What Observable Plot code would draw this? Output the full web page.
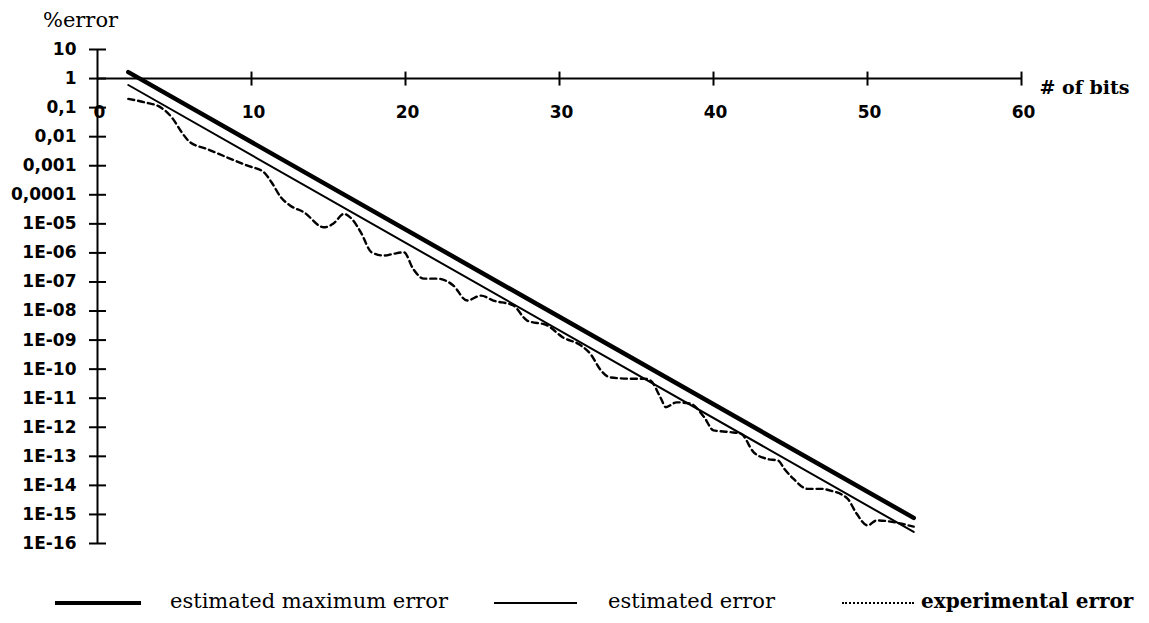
<!DOCTYPE html>
<html>
<head>
<meta charset="utf-8">
<script src="https://cdn.jsdelivr.net/npm/d3@7"></script>
<script src="https://cdn.jsdelivr.net/npm/@observablehq/plot@0.6"></script>
<style>
  body { margin: 0; background: #fff; }
  #chart svg { display: block; }
  #legend { position: relative; width: 1149px; height: 48px; font-family: "DejaVu Serif", serif; font-size: 21px; color: #000; }
  #legend .sw { position: absolute; top: 27px; height: 0; border-top-color: #000; border-top-style: solid; }
  #legend .lb { position: absolute; top: 13px; line-height: 26px; white-space: nowrap; }
</style>
</head>
<body>
<div id="chart"></div>
<div id="legend">
  <div class="sw" style="left:55px;width:86px;border-top-width:4px;top:26px"></div>
  <div class="lb" style="left:170px">estimated maximum error</div>
  <div class="sw" style="left:494px;width:83px;border-top-width:2px"></div>
  <div class="lb" style="left:608px">estimated error</div>
  <div class="sw" style="left:842px;width:72px;border-top-width:2px;border-top-style:dotted"></div>
  <div class="lb" style="left:921px;font-weight:bold;font-size:20px">experimental error</div>
</div>
<script>
// Relative error (%) versus number of mantissa bits
const maxBits = [2, 53];
const maxErr = [1.66, 7.6e-16];

const estBits = [2, 53];
const estErr = [0.60, 2.5e-16];

const expBits = [2.0, 3.0, 4.1, 4.9, 5.4, 6.0, 7.1, 8.4, 9.7, 10.8, 11.3, 11.9, 12.5, 13.4, 14.7, 15.3, 16.0, 16.5,
  17.1, 17.8, 18.6, 19.2, 19.9, 20.5, 21.2, 22.1, 23.1, 24.0, 24.9, 25.7, 27.0, 27.9, 29.2, 30.2, 31.4, 32.0,
  32.7, 33.3, 34.6, 35.5, 35.9, 36.6, 36.9, 37.6, 38.5, 39.4, 40.0, 41.1, 41.8, 42.6, 43.5, 44.2, 44.6, 45.2,
  46.1, 47.0, 47.6, 48.7, 49.3, 50.0, 50.6, 53.0];
const expErr = [0.20, 0.155, 0.102, 0.041, 0.016, 0.0065, 0.0038, 0.00195, 0.00102, 6.0e-4, 2.7e-4, 8.3e-5, 4.3e-5,
  2.5e-5, 7.6e-6, 1.0e-5, 2.2e-5, 1.5e-5, 5.1e-6, 1.05e-6, 8.1e-7, 9.3e-7, 1.05e-6, 2.8e-7, 1.3e-7, 1.3e-7,
  7.6e-8, 2.3e-8, 3.4e-8, 2.3e-8, 1.55e-8, 4.7e-9, 3.2e-9, 1.26e-9, 6.5e-10, 3.4e-10, 8.9e-11, 5.2e-11,
  4.7e-11, 4.7e-11, 4.1e-11, 9.5e-12, 4.9e-12, 7.2e-12, 6.5e-12, 2.2e-12, 7.8e-13, 6.8e-13, 5.9e-13, 1.4e-13,
  8.1e-14, 7.1e-14, 3.7e-14, 1.66e-14, 7.6e-15, 7.6e-15, 6.6e-15, 3.5e-15, 1.05e-15, 4.2e-16, 6.2e-16, 3.8e-16];

const yTickValues = [10, 1, 0.1, 0.01, 0.001, 1e-4, 1e-5, 1e-6, 1e-7, 1e-8, 1e-9, 1e-10, 1e-11, 1e-12, 1e-13, 1e-14, 1e-15, 1e-16];
const yTickLabels = ["10", "1", "0,1", "0,01", "0,001", "0,0001", "1E-05", "1E-06", "1E-07", "1E-08", "1E-09", "1E-10",
  "1E-11", "1E-12", "1E-13", "1E-14", "1E-15", "1E-16"];
const xTickValues = [0, 10, 20, 30, 40, 50, 60];
const xTickLabels = ["0", "10", "20", "30", "40", "50", "60"];

const toRows = (xs, ys) => xs.map((x, i) => ({bits: x, err: ys[i]}));
const maxRows = toRows(maxBits, maxErr);
const estRows = toRows(estBits, estErr);
const expRows = toRows(expBits, expErr);

// Short cross ticks drawn as custom symbols centred on the axis lines
const hTick = {draw(ctx, size) { const r = Math.sqrt(size / Math.PI); ctx.moveTo(-r, 0); ctx.lineTo(r, 0); }};
const vTick = {draw(ctx, size) { const r = Math.sqrt(size / Math.PI); ctx.moveTo(0, -r); ctx.lineTo(0, r); }};

const tickFont = {fontFamily: "DejaVu Sans, sans-serif", fontWeight: "bold", fontSize: 17, fill: "black"};

const chart = Plot.plot({
  width: 1149,
  height: 575,
  marginLeft: 97,
  marginRight: 128,
  marginTop: 49,
  marginBottom: 32,
  x: {type: "linear", domain: [0, 60], axis: null},
  y: {type: "log", domain: [1e-16, 10], axis: null},
  marks: [
    // axes crossing at (0 bits, 1 %)
    Plot.ruleX([0], {y1: 1e-16, y2: 10, stroke: "black", strokeWidth: 2}),
    Plot.ruleY([1], {x1: 0, x2: 60, stroke: "black", strokeWidth: 2}),
    Plot.dot(yTickValues, {x: 0, y: d => d, symbol: hTick, r: 8.5, stroke: "black", strokeWidth: 2}),
    Plot.dot(xTickValues.slice(1), {x: d => d, y: 1, symbol: vTick, r: 7, stroke: "black", strokeWidth: 2}),
    Plot.text(yTickValues, {x: 0, y: d => d, text: (d, i) => yTickLabels[i], dx: -21, textAnchor: "end", letterSpacing: 0.5, ...tickFont}),
    Plot.text(xTickValues, {x: d => d, y: 1, text: (d, i) => xTickLabels[i], dx: 2, dy: 34, letterSpacing: 0.5, ...tickFont}),
    Plot.text(["%error"], {x: 0, y: 10, text: d => d, dx: -17, dy: -29, fontFamily: "DejaVu Serif, serif", fontSize: 21, fill: "black"}),
    Plot.text(["# of bits"], {x: 60, y: 1, text: d => d, dx: 18, dy: 9, textAnchor: "start", fontFamily: "DejaVu Serif, serif", fontWeight: "bold", fontSize: 19, fill: "black"}),
    // series
    Plot.line(maxRows, {x: "bits", y: "err", stroke: "black", strokeWidth: 4.5}),
    Plot.line(estRows, {x: "bits", y: "err", stroke: "black", strokeWidth: 2}),
    Plot.line(expRows, {x: "bits", y: "err", stroke: "black", strokeWidth: 2.4, strokeDasharray: "6,4", curve: "monotone-x"})
  ]
});
document.getElementById("chart").append(chart);
</script>
</body>
</html>
